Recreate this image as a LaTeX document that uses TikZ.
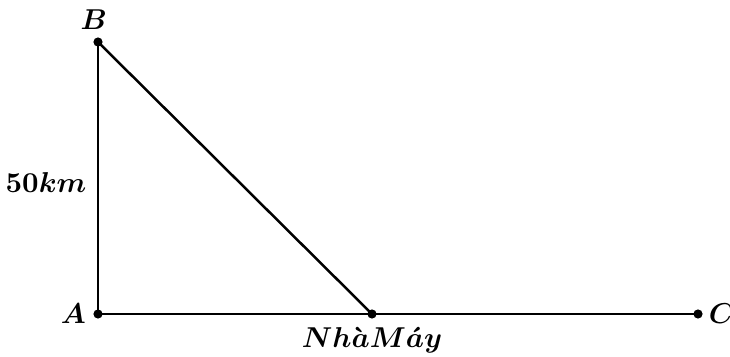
\documentclass[tikz,border=0pt]{standalone}
\usepackage{amsmath,amssymb}
\usepackage{tikz}
\usetikzlibrary{positioning}

\begin{document}
\begin{tikzpicture}[
  x=0.0134cm,y=-0.0134cm,
  pt/.style={circle,fill=black,inner sep=0pt,minimum size=3.5pt},
  lbl/.style={font=\fontsize{10.5}{12}\selectfont\boldmath,inner sep=1pt},
  seg/.style={line width=0.95pt}
]
\useasboundingbox (0,0) rectangle (730,357);
% Points
\node[pt] (A) at (98,314) {};
\node[pt] (B) at (98,42) {};
\node[pt] (C) at (698,314) {};
\node[pt] (M) at (372,314) {};
% Sides
\draw[seg] (A.center) -- (B.center);
\draw[seg] (A.center) -- (C.center);
\draw[seg] (B.center) -- (M.center);
% Labels
\node[lbl,above left=2pt and -6pt of B] {$B$};
\node[lbl,left=1.5pt of A] {$A$};
\node[lbl,right=1pt of C] {$C$};
\node[lbl,below=2pt of M] {$N h \grave{a} M \acute{a} y$};
\node[lbl] at (46,183) {$50 km$};
\end{tikzpicture}
\end{document}
